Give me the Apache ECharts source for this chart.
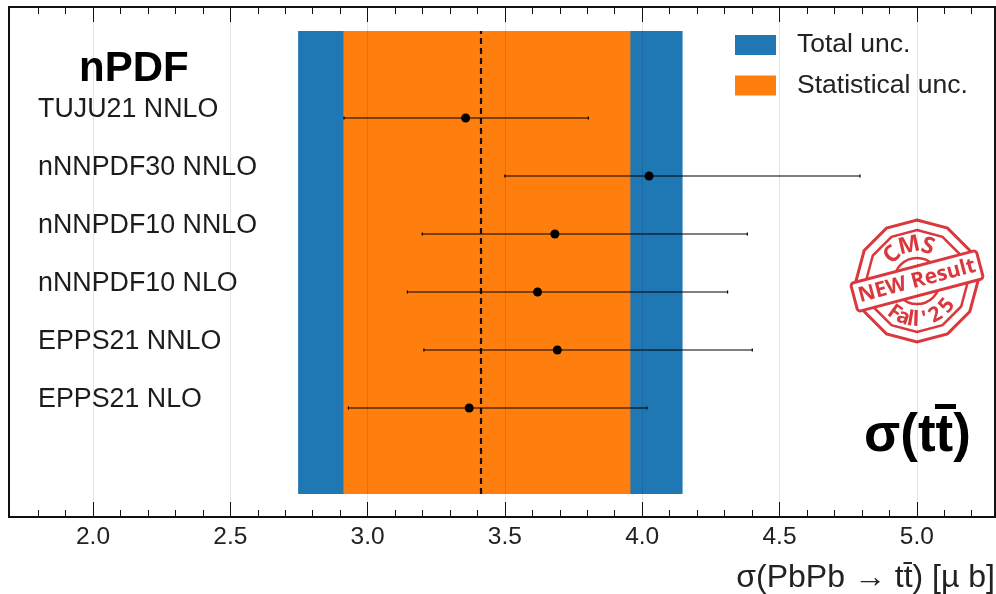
<!DOCTYPE html>
<html><head><meta charset="utf-8">
<style>html,body{margin:0;padding:0;background:#fff}#c{width:996px;height:594px}</style>
<script src="https://cdn.jsdelivr.net/npm/echarts@6/dist/echarts.min.js"></script>
</head><body><div id="c"></div>
<script>
const pdfNames = ['EPPS21 NLO','EPPS21 NNLO','nNNPDF10 NLO','nNNPDF10 NNLO','nNNPDF30 NNLO','TUJU21 NNLO'];
const rowPositions = [1,2,3,4,5,6];
const central = [3.370,3.691,3.619,3.682,4.025,3.357];
const lower = [2.930,3.205,3.145,3.199,3.500,2.914];
const upper = [4.017,4.401,4.311,4.383,4.793,3.804];
const totalBand = [2.747,4.147];
const statBand = [2.912,3.957];
const measured = 3.413;
const bandRows = [-0.483,7.5];
const majorTicks = [2.0,2.5,3.0,3.5,4.0,4.5,5.0];
const minorTicks = [1.8,1.9,2.1,2.2,2.3,2.4,2.6,2.7,2.8,2.9,3.1,3.2,3.3,3.4,3.6,3.7,3.8,3.9,4.1,4.2,4.3,4.4,4.6,4.7,4.8,4.9,5.1,5.2];
const labelX = 1.8;
const labelLift = 0.14;
const xMin = 1.6941, xMax = 5.2848, yMin = -0.879, yMax = 7.914;
const INK = '#111';
const RED = '#d9383c';
const SANS = '"Liberation Sans", Arial, sans-serif';
const STAMP_FONT = '"Open Sans", "Liberation Sans"';

const chart = echarts.init(document.getElementById('c'), null, {renderer:'canvas'});

function band(name, range, color, z){
  return {type:'custom', name, z, coordinateSystem:'cartesian2d', itemStyle:{color},
    data:[[range[0],bandRows[0],range[1],bandRows[1]]], encode:{x:[0,2],y:[1,3]},
    renderItem(p,api){
      const a=api.coord([api.value(0),api.value(3)]), b=api.coord([api.value(2),api.value(1)]);
      return {type:'rect',shape:{x:a[0],y:a[1],width:b[0]-a[0],height:b[1]-a[1]},style:{fill:color}};
    }};
}
function xAxis(position, values, length, split, labels){
  return {type:'value',min:xMin,max:xMax,position,z:3,
    axisLine:{show:false,onZero:false},
    axisTick:{show:true,inside:true,length,customValues:values,lineStyle:{color:INK,width:1}},
    axisLabel:labels?{show:true,customValues:values,fontFamily:SANS,fontSize:24.5,color:'#222',margin:8,formatter:v=>v.toFixed(1)}:{show:false},
    splitLine:{show:split,lineStyle:{color:'rgba(0,0,0,0.1)',width:1}}};
}
function polygon(cx,cy,r,n,rot){
  const pts=[];
  for(let i=0;i<n;i++){const t=rot+i*2*Math.PI/n;pts.push([cx+r*Math.sin(t),cy-r*Math.cos(t)]);}
  return pts;
}
const sx=917, sy=281;
const topLetters=[['C',-0.76],['M',-0.22],['S',0.3]];
const botLetters=[['F',0.62],['a',0.36],['l',0.17],['l',0.03],["'",-0.2],['2',-0.5],['5',-0.88]];
const stamp=[
  {type:'polygon',shape:{points:polygon(sx,sy,61,12,0)},style:{fill:'#fff',stroke:RED,lineWidth:3}},
  {type:'polygon',shape:{points:polygon(sx,sy,51,12,0)},style:{fill:'none',stroke:RED,lineWidth:2.5}},
  {type:'arc',shape:{cx:sx,cy:sy,r:23,startAngle:0,endAngle:Math.PI*2},style:{fill:'none',stroke:RED,lineWidth:2.5}},
  ...topLetters.map(([ch,t])=>({type:'text',x:sx+36*Math.sin(t),y:sy-36*Math.cos(t),rotation:-t,
    style:{text:ch,fill:RED,font:'bold 23px '+STAMP_FONT,align:'center',verticalAlign:'middle'}})),
  ...botLetters.map(([ch,t])=>({type:'text',x:sx-39*Math.sin(t),y:sy+39*Math.cos(t),rotation:-t,
    style:{text:ch,fill:RED,font:'bold 21px '+STAMP_FONT,align:'center',verticalAlign:'middle'}})),
  {type:'rect',x:sx,y:sy,rotation:14.8*Math.PI/180,shape:{x:-65,y:-14.5,width:130,height:29,r:3},style:{fill:'#fff',stroke:RED,lineWidth:3}},
  {type:'text',x:sx,y:sy,rotation:14.8*Math.PI/180,style:{text:'NEW Result',fill:RED,font:'bold 21px '+STAMP_FONT,align:'center',verticalAlign:'middle'}}
];

chart.setOption({
  animation:false,
  backgroundColor:'#fff',
  grid:{left:9,right:1,top:7,bottom:77,show:true,borderColor:INK,borderWidth:2,backgroundColor:'#fff'},
  legend:{left:735,top:31.5,padding:0,orient:'vertical',itemWidth:41,itemHeight:20,itemGap:13.5,icon:'rect',
    data:['Total unc.','Statistical unc.'],textStyle:{fontFamily:SANS,fontSize:26.5,color:'#222',padding:[0,0,0,16]},selectedMode:false},
  xAxis:[
    xAxis('bottom',majorTicks,15,true,true),
    xAxis('bottom',minorTicks,7,false,false),
    xAxis('top',majorTicks,15,false,false),
    xAxis('top',minorTicks,7,false,false)
  ],
  yAxis:{type:'value',min:yMin,max:yMax,show:false},
  series:[
    band('Total unc.',totalBand,'#1f77b4',1),
    band('Statistical unc.',statBand,'#ff7f0e',2),
    {type:'line',z:4,symbol:'none',silent:true,lineStyle:{color:'#1a0a00',width:2.2,type:[6,4]},
      data:[[measured,bandRows[0]],[measured,bandRows[1]]]},
    {type:'custom',z:5,data:rowPositions.map((y,i)=>[lower[i],y,upper[i]]),encode:{x:[0,2],y:1},
      renderItem(p,api){
        const a=api.coord([api.value(0),api.value(1)]), b=api.coord([api.value(2),api.value(1)]);
        const st={stroke:'#000',lineWidth:1.2};
        return {type:'group',children:[
          {type:'line',shape:{x1:a[0],y1:a[1],x2:b[0],y2:b[1]},style:st},
          {type:'line',shape:{x1:a[0],y1:a[1]-1.5,x2:a[0],y2:a[1]+1.5},style:st},
          {type:'line',shape:{x1:b[0],y1:b[1]-1.5,x2:b[0],y2:b[1]+1.5},style:st}
        ]};
      }},
    {type:'scatter',z:6,symbolSize:9,itemStyle:{color:'#000',opacity:1},data:central.map((x,i)=>[x,rowPositions[i]])},
    {type:'scatter',z:6,symbolSize:0,silent:true,itemStyle:{opacity:1},
      data:pdfNames.map((n,i)=>({name:n,value:[labelX,rowPositions[i]+labelLift]})),
      label:{show:true,position:'right',distance:0,formatter:'{b}',fontFamily:SANS,fontSize:26.8,color:'#1c1c1c',opacity:1}}
  ],
  graphic:[
    {type:'text',left:79,top:48,style:{text:'nPDF',font:'bold 42px '+SANS,fill:'#000'}},
    {type:'text',x:864,y:436,style:{text:'σ(tt)',font:'bold 53px '+SANS,fill:'#000',verticalAlign:'middle'}},
    {type:'rect',shape:{x:935,y:404,width:21,height:5},style:{fill:'#000'}},
    {type:'text',x:995,y:578,style:{text:'σ(PbPb → tt̄) [µ b]',font:'32px '+SANS,fill:'#222',align:'right',verticalAlign:'middle'}},
    {type:'group',children:stamp}
  ]
});
</script></body></html>
